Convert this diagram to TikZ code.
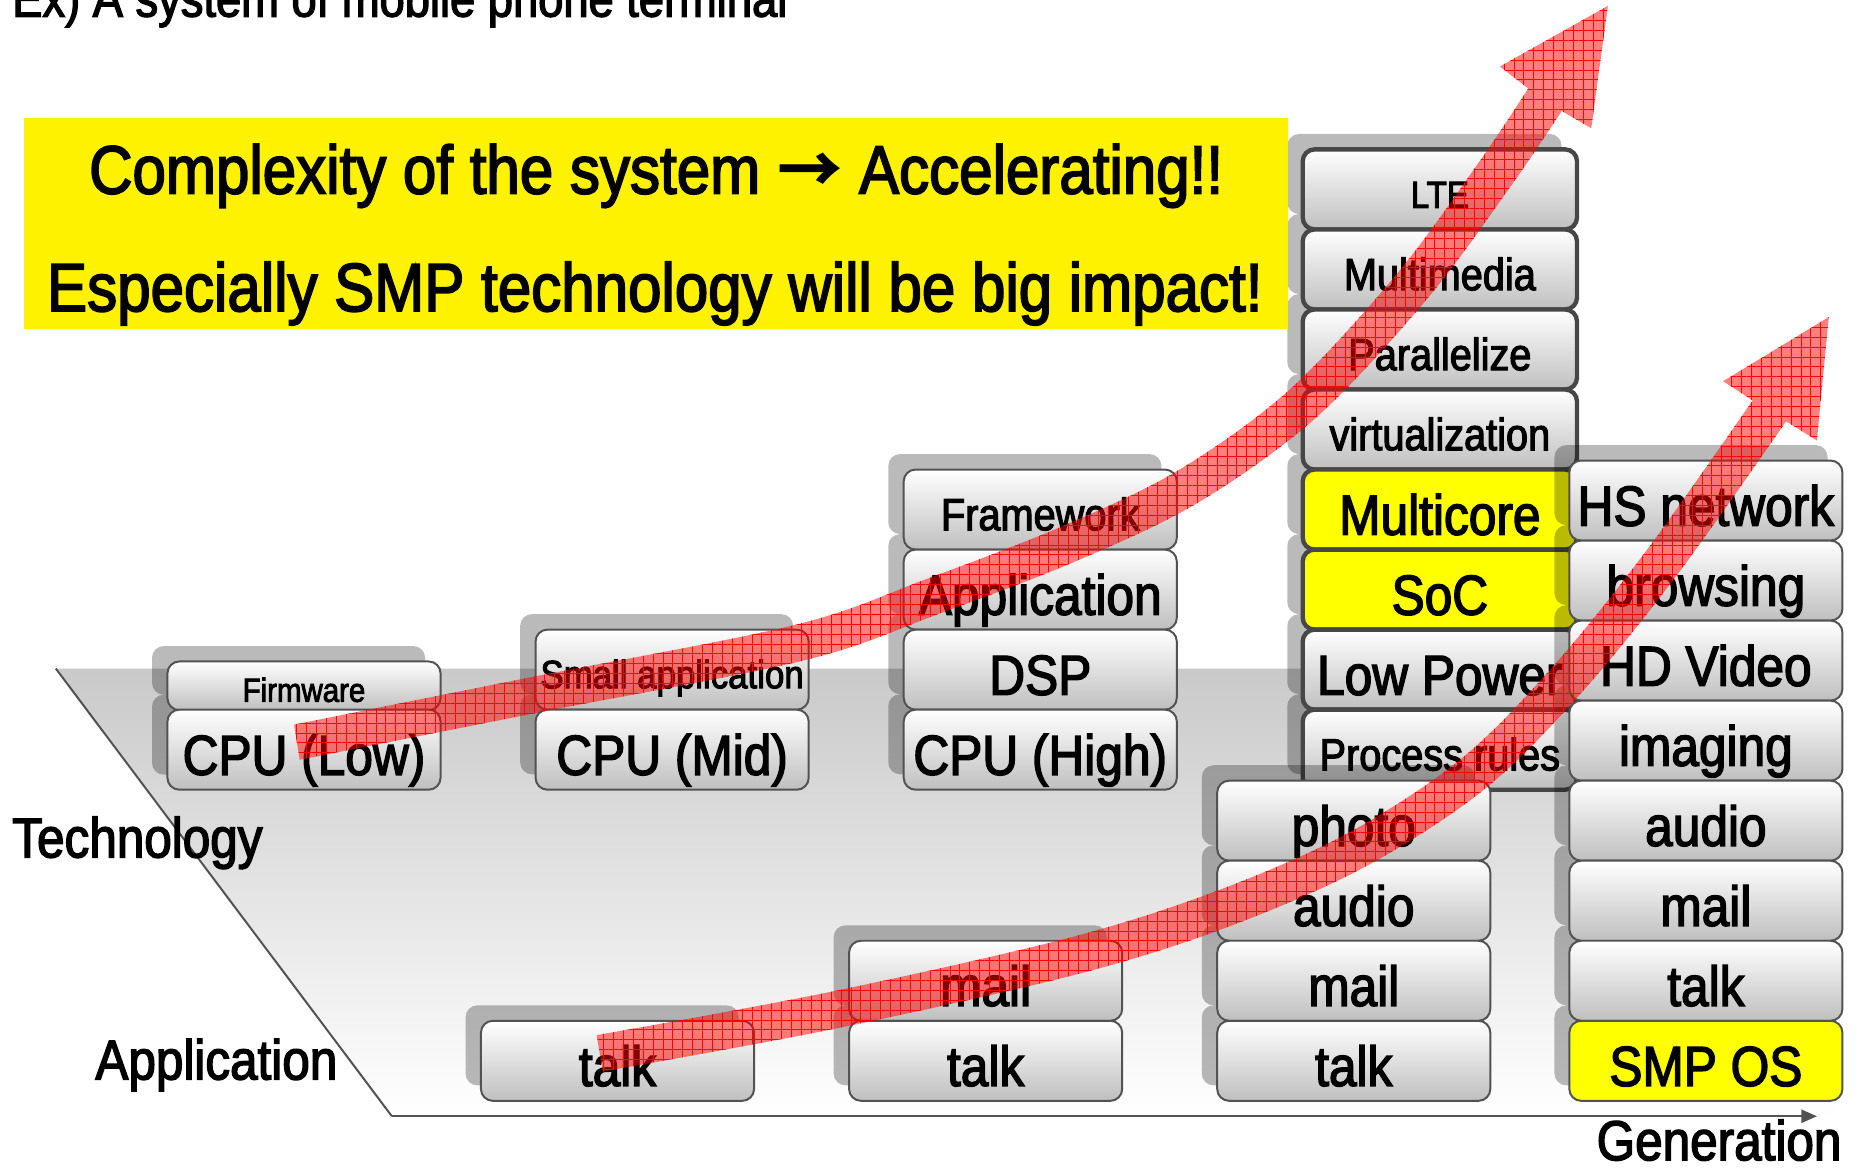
\documentclass[tikz,border=0pt]{standalone}
\usepackage{fontspec}
\setmainfont{Liberation Sans}[FakeStretch=0.88,FakeBold=2.5]
\newfontfamily\arrowfont{Noto Sans CJK JP}
\usetikzlibrary{arrows.meta,patterns.meta}

\tikzset{
  blk/.style={draw=black!68, line width=1pt, rounded corners=6pt, top color=white,
    bottom color=black!25, minimum width=138pt, minimum height=40.44pt, inner sep=0pt, text=black},
  techblk/.style={blk, draw=black!72, line width=2.2pt, minimum width=138.6pt},
  hot/.style={top color=yellow, bottom color=yellow},
  dropfill/.style={fill=black, fill opacity=0.27, rounded corners=6pt},
  bigtxt/.style={font=\fontsize{28.5}{30}\selectfont, text height=25.4pt, text depth=0pt},
  midtxt/.style={font=\fontsize{22.8}{24}\selectfont, text height=20.9pt, text depth=0pt},
  ltetxt/.style={font=\fontsize{19}{20}\selectfont, text height=18.6pt, text depth=0pt},
  smalltxt/.style={font=\fontsize{20}{22}\selectfont, text height=18.8pt, text depth=0pt},
  tinytxt/.style={font=\fontsize{16.9}{18}\selectfont, text height=16.2pt, text depth=0pt},
  axislabel/.style={font=\fontsize{28.4}{30}\selectfont, inner sep=0pt},
  bannertxt/.style={font=\fontsize{34.5}{36}\selectfont, inner sep=0pt},
  rimline/.style={draw=black!68, line width=1pt},
  redgrid/.style={pattern={Hatch[angle=0,distance=5pt,line width=0.5pt]}, pattern color=red,
    fill opacity=0.85, preaction={fill=red, fill opacity=0.5}},
}
% shadow behind a block: left x, top y, height (block width 230)
\newcommand\castshadow[3]{\fill[dropfill] ({#1-13},{#2-13}) rectangle ++(230,#3);}

\begin{document}
\begin{tikzpicture}[x=0.6pt,y=-0.6pt]
\useasboundingbox (0,0) rectangle (1568,984);

% ---------- generation plane ----------
\coordinate (techtop) at (47,563);
\coordinate (origin) at (330,940);
\coordinate (genend) at (1530,940);
\shade[top color=black!21, bottom color=white] (techtop) -- (1545,563) -- (1545,940) -- (origin) -- cycle;
\draw[rimline] (techtop) -- (origin);
\draw[rimline, -{Triangle[length=7.8pt,width=6.6pt]}] (origin) -- (genend);

% ---------- generation 1 : technology ----------
\castshadow{141}{557}{41}
\castshadow{141}{598}{67.4}
\node[blk, tinytxt, minimum height=24.6pt] (fw) at (256,577.5) {Firmware};
\node[blk, bigtxt] (cpulow) at (256,631.3) {CPU (Low)};

% ---------- generation 2 : technology ----------
\castshadow{451}{530.2}{67.4}
\castshadow{451}{597.6}{67.4}
\node[blk, smalltxt] (smallapp) at (566,563.9) {Small application};
\node[blk, bigtxt] (cpumid) at (566,631.3) {CPU (Mid)};

% ---------- generation 3 : technology ----------
\foreach \t in {395.4,462.8,530.2,597.6} {\castshadow{761}{\t}{67.4}}
\node[blk, midtxt] (framework) at (876,429.1) {Framework};
\node[blk, bigtxt] (application) at (876,496.5) {Application};
\node[blk, bigtxt] (dsp) at (876,563.9) {DSP};
\node[blk, bigtxt] (cpuhigh) at (876,631.3) {CPU (High)};

% ---------- generation 4 : technology ----------
\foreach \t in {125.8,193.2,260.6,328,395.4,462.8,530.2,597.6} {\fill[dropfill] ({1097-13},{\t-13}) rectangle ++(231,67.4);}
\node[techblk, ltetxt] (lte) at (1212.5,159.5) {LTE};
\node[techblk, midtxt] (multimedia) at (1212.5,226.9) {Multimedia};
\node[techblk, midtxt] (parallelize) at (1212.5,294.3) {Parallelize};
\node[techblk, midtxt] (virt) at (1212.5,361.7) {virtualization};
\node[techblk, hot, bigtxt] (multicore) at (1212.5,429.1) {Multicore};
\node[techblk, hot, bigtxt] (soc) at (1212.5,496.5) {SoC};
\node[techblk, bigtxt] (lowpower) at (1212.5,563.9) {Low Power};
\node[techblk, midtxt] (process) at (1212.5,631.3) {Process rules};

% ---------- generation 3 : applications ----------
\foreach \t in {657.4,724.8,792.2,859.6} {\castshadow{1025}{\t}{67.4}}
\node[blk, bigtxt] (photo3) at (1140,691.1) {photo};
\node[blk, bigtxt] (audio3) at (1140,758.5) {audio};
\node[blk, bigtxt] (mail3) at (1140,825.9) {mail};
\node[blk, bigtxt] (talk3) at (1140,893.3) {talk};

% ---------- generation 4 : applications ----------
\foreach \t in {387.8,455.2,522.6,590,657.4,724.8,792.2,859.6} {\castshadow{1322}{\t}{67.4}}
\node[blk, bigtxt] (hsnet) at (1436.5,421.5) {HS network};
\node[blk, bigtxt] (browsing) at (1436.5,488.9) {browsing};
\node[blk, bigtxt] (hdvideo) at (1436.5,556.3) {HD Video};
\node[blk, bigtxt] (imaging) at (1436.5,623.7) {imaging};
\node[blk, bigtxt] (audio4) at (1436.5,691.1) {audio};
\node[blk, bigtxt] (mail4) at (1436.5,758.5) {mail};
\node[blk, bigtxt] (talk4) at (1436.5,825.9) {talk};
\node[blk, hot, bigtxt] (smpos) at (1436.5,893.3) {SMP OS};

% ---------- generation 2 : applications ----------
\castshadow{715}{792.2}{67.4}
\castshadow{715}{859.6}{67.4}
\node[blk, bigtxt] (mail2) at (830,825.9) {mail};
\node[blk, bigtxt] (talk2) at (830,893.3) {talk};

% ---------- generation 1 : applications ----------
\castshadow{405}{859.6}{67.4}
\node[blk, bigtxt] (talk1) at (520,893.3) {talk};

% ---------- axis labels ----------
\node[axislabel, anchor=base west] (techlbl) at (10,722) {Technology};
\node[axislabel, anchor=base west] (applbl) at (80,909) {Application};
\node[axislabel, anchor=base east] (genlbl) at (1551,977) {Generation};

% ---------- heading and banner ----------
\node[font=\fontsize{26}{28}\selectfont, inner sep=0pt, anchor=base west] (title) at (10,14)
  {Ex) A system of mobile phone terminal};
\node[fill=yellow, minimum width=639pt, minimum height=106.8pt, inner sep=0pt] (banner) at (552.5,188) {};
\node[bannertxt, anchor=base] (bannerA) at (552.5,163)
  {Complexity of the system {\arrowfont\bfseries\fontsize{33}{35}\selectfont →} Accelerating!!};
\node[bannertxt, anchor=base] (bannerB) at (551.5,262) {Especially SMP technology will be big impact!};

% ---------- growth arrows ----------
\path[redgrid]
  plot[smooth,tension=0.55] coordinates {(247.6,610.2) (448,570.1) (669.6,526.2) (780.6,487.4) (893.5,443.6)
    (991.8,396.3) (1086.3,327.8) (1177.3,229.4) (1246.3,135.3) (1286.9,74.5)}
  -- (1263,56) -- (1354,5) -- (1340,108) -- (1315.1,93.5)
  -- plot[smooth,tension=0.55] coordinates {(1315.1,93.5) (1273.7,154.7) (1202.7,250.6) (1107.7,352.2)
    (1008.2,423.7) (906.5,472.4) (791.4,516.6) (678.4,555.8) (454,599.9) (252.4,639.8)}
  -- cycle;
\path[redgrid]
  plot[smooth,tension=0.55] coordinates {(502.4,871.7) (697.1,835.7) (896.0,790.8) (1019.6,752.1)
    (1132.7,702.9) (1229.9,639.4) (1307.7,561.3) (1386.6,463.4) (1475.9,337.2)}
  -- (1451,321) -- (1540,267) -- (1530,371) -- (1504.1,354.8)
  -- plot[smooth,tension=0.55] coordinates {(1504.1,354.8) (1413.4,482.6) (1332.3,582.7) (1250.1,664.6)
    (1147.3,731.1) (1030.4,781.9) (904.0,821.2) (702.9,866.3) (507.6,902.3)}
  -- cycle;
\end{tikzpicture}
\end{document}
